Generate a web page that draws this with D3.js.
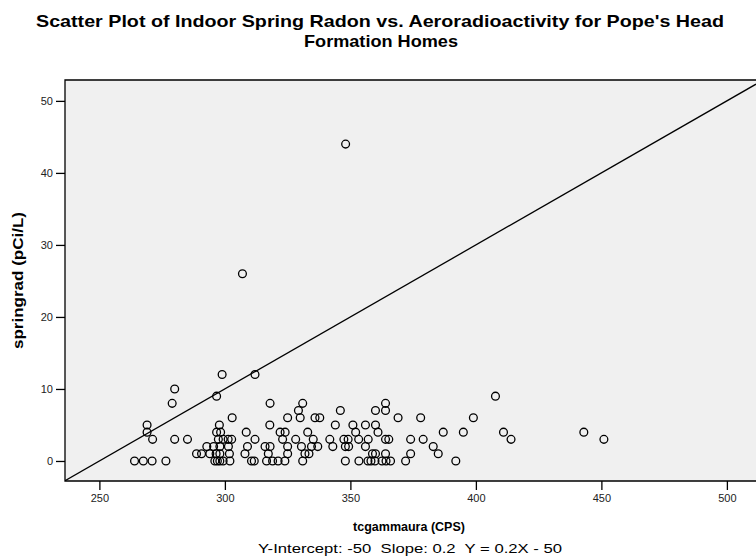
<!DOCTYPE html>
<html>
<head>
<meta charset="utf-8">
<script src="https://cdn.jsdelivr.net/npm/d3@7"></script>
<style>
  body { margin: 0; background: #fff; }
  svg { display: block; font-family: "Liberation Sans", Arial, sans-serif; }
  .axis text { font-size: 11px; fill: #222; }
  .axis line { stroke: #000; stroke-width: 1.3px; }
  .axis path { display: none; }
</style>
</head>
<body>
<svg width="756" height="559"></svg>
<script>
// springrad values (pCi/L) and tcgammaura (CPS), one row per radon level
var springrad = [
  0,0,0,0,0,0,0,0,0,0,0,0,0,0,0,0,0,0,0,0,0,0,0,0,0,0,
  1,1,1,1,1,1,1,1,1,1,1,1,1,1,1,1,
  2,2,2,2,2,2,2,2,2,2,2,2,2,2,2,2,
  3,3,3,3,3,3,3,3,3,3,3,3,3,3,3,3,3,3,3,3,3,3,
  4,4,4,4,4,4,4,4,4,4,4,4,4,
  5,5,5,5,5,5,5,
  6,6,6,6,6,6,6,6,
  7,7,7,7,
  8,8,8,8,
  9,9,
  10,
  12,12,
  26,
  44
];
var tcgammaura = [
  264, 267.5, 271, 276.5, 296, 297, 298, 299.3, 302, 310.6, 311.7, 316.6, 319, 321.2, 323.9, 331, 348, 353.4, 357, 358.2, 359.8, 362.6, 364.2, 366, 372, 392,
  288.7, 290.7, 294, 296.5, 298, 301.8, 308, 317.3, 325, 331.9, 333.5, 358.8, 360, 364, 374, 385,
  292.8, 295.5, 298, 301.4, 309, 316, 318, 325, 330.5, 334.5, 337, 343, 348, 349.3, 356, 383,
  271.2, 280, 285.1, 297.4, 299.3, 301.3, 302.7, 312, 323, 328.2, 335.2, 341.8, 347.4, 349.1, 353.3, 357.1, 364, 365.3, 374, 379, 414, 451,
  269, 296.7, 298.3, 308.5, 322, 324, 333, 352.1, 361, 387, 395, 411, 443,
  269, 297.8, 317.9, 344, 351, 356, 360,
  302.9, 325, 330, 335.9, 337.8, 369, 378, 399,
  329.3, 346, 360, 364,
  279, 318, 331, 364,
  296.7, 407.8,
  280,
  298.9, 312,
  307,
  348.1
];
var xTicks = [250, 300, 350, 400, 450, 500];
var yTicks = [0, 10, 20, 30, 40, 50];
var intercept = -50, slope = 0.2;

var svg = d3.select("svg"),
    margin = {top: 80, right: 0, bottom: 78, left: 65},
    width = +svg.attr("width") - margin.left - margin.right,
    height = +svg.attr("height") - margin.top - margin.bottom,
    g = svg.append("g").attr("transform", "translate(" + margin.left + "," + margin.top + ")");

var x = d3.scaleLinear().domain([236.3, 511.6]).range([0, width]);
var y = d3.scaleLinear().domain([-2.78, 52.9]).range([height, 0]);

// title (the original is drawn a bit wide, so stretch to its width)
svg.append("text")
    .attr("x", 380).attr("y", 27)
    .attr("text-anchor", "middle")
    .attr("textLength", 688).attr("lengthAdjust", "spacingAndGlyphs")
    .style("font-size", "17px").style("font-weight", "bold")
    .text("Scatter Plot of Indoor Spring Radon vs. Aeroradioactivity for Pope's Head");
svg.append("text")
    .attr("x", 381).attr("y", 47)
    .attr("text-anchor", "middle")
    .attr("textLength", 154).attr("lengthAdjust", "spacingAndGlyphs")
    .style("font-size", "17px").style("font-weight", "bold")
    .text("Formation Homes");

// plot background
g.append("rect")
    .attr("width", width).attr("height", height)
    .attr("fill", "#f0f0f0");

g.append("clipPath").attr("id", "clip")
  .append("rect").attr("width", width).attr("height", height);

// points
g.append("g")
    .selectAll("circle")
    .data(tcgammaura)
    .enter().append("circle")
      .attr("cx", function(d) { return x(d); })
      .attr("cy", function(d, i) { return y(springrad[i]); })
      .attr("r", 3.9)
      .attr("fill", "none")
      .attr("stroke", "#000")
      .attr("stroke-width", 1.3);

// fit line Y = 0.2X - 50
var xd = x.domain();
g.append("line")
    .attr("clip-path", "url(#clip)")
    .attr("x1", x(xd[0])).attr("y1", y(intercept + slope * xd[0]))
    .attr("x2", x(xd[1])).attr("y2", y(intercept + slope * xd[1]))
    .attr("stroke", "#000").attr("stroke-width", 1.3);

// frame
g.append("path")
    .attr("d", "M" + width + ",0H0V" + height + "H" + width)
    .attr("fill", "none").attr("stroke", "#000").attr("stroke-width", 1.3);

g.append("g")
    .attr("class", "axis axis--x")
    .attr("transform", "translate(0," + height + ")")
    .call(d3.axisBottom(x).tickValues(xTicks).tickSize(9).tickPadding(4));

g.append("g")
    .attr("class", "axis axis--y")
    .call(d3.axisLeft(y).tickValues(yTicks).tickSize(9).tickPadding(3));

// axis titles
svg.append("text")
    .attr("x", 409).attr("y", 531)
    .attr("text-anchor", "middle")
    .style("font-size", "12.5px").style("font-weight", "bold")
    .text("tcgammaura (CPS)");

svg.append("text")
    .attr("transform", "translate(23," + (margin.top + height / 2) + ") rotate(-90)")
    .attr("text-anchor", "middle")
    .attr("textLength", 137).attr("lengthAdjust", "spacingAndGlyphs")
    .style("font-size", "14.5px").style("font-weight", "bold")
    .text("springrad (pCi/L)");

svg.append("text")
    .attr("x", 410).attr("y", 553)
    .attr("text-anchor", "middle")
    .attr("xml:space", "preserve")
    .attr("textLength", 304).attr("lengthAdjust", "spacingAndGlyphs")
    .style("font-size", "12.5px")
    .text("Y-Intercept: -50  Slope: 0.2  Y = 0.2X - 50");
</script>
</body>
</html>
